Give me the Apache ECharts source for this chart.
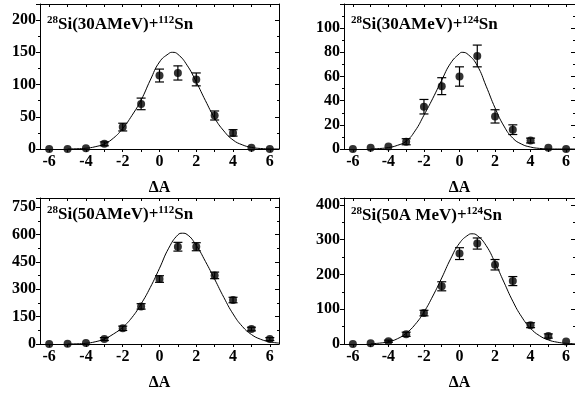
<!DOCTYPE html>
<html>
<head>
<meta charset="utf-8">
<script src="https://cdn.jsdelivr.net/npm/echarts@6/dist/echarts.min.js"></script>
<style>
  html, body { margin: 0; padding: 0; background: #fff; }
  #chart { width: 575px; height: 393px; }
</style>
</head>
<body>
<div id="chart"></div>
<script>
// mass transfer ΔA for the measured points
const massX = [-6, -5, -4, -3, -2, -1, 0, 1, 2, 3, 4, 5, 6];
const xTicks = [-6, -5, -4, -3, -2, -1, 0, 1, 2, 3, 4, 5, 6];
const xLabels = [-6, -4, -2, 0, 2, 4, 6];

// y tick labels per panel
const yLabels30sn112 = [0, 50, 100, 150, 200];
const yLabels30sn124 = [0, 20, 40, 60, 80, 100];
const yLabels50sn112 = [0, 150, 300, 450, 600, 750];
const yLabels50sn124 = [0, 100, 200, 300, 400];

// measured yields and errors
const si30sn112 = [0, 0, 1, 8, 34, 70, 114, 118, 108, 52, 25, 2, 0];
const si30sn112Err = [0, 0, 0, 3, 6, 9, 10, 11, 10, 7, 5, 0, 0];
const si30sn124 = [0, 1, 2, 6, 35, 52, 60, 77, 27, 16, 7, 1, 0];
const si30sn124Err = [0, 0, 0, 2.5, 6, 7, 8, 9, 5.5, 4, 2, 0, 0];
const si50sn112 = [0, 2, 5, 27, 86, 206, 356, 533, 533, 376, 241, 82, 27];
const si50sn112Err = [0, 0, 0, 8, 12, 15, 18, 24, 22, 18, 15, 10, 8];
const si50sn124 = [0, 2, 8, 28, 89, 166, 260, 289, 228, 181, 54, 23, 7];
const si50sn124Err = [0, 0, 3, 6, 8, 13, 17, 16, 15, 13, 7, 6, 0];

// fitted curves
const fitX30sn112 = [-5, -4.5, -4, -3.5, -3, -2.5, -2, -1.5, -1, -0.5, 0, 0.5, 0.7, 1, 1.5, 2, 2.5, 3, 3.5, 4, 4.5, 5, 5.5, 6, 6.5];
const fit30sn112 = [0.1, 0.4, 1.2, 3.5, 8, 17, 32, 52, 76, 107, 135, 148, 150, 147, 130, 104, 75, 48, 28, 14, 6.5, 2.5, 0.8, 0.2, 0];
const fitX30sn124 = [-5, -4.5, -4, -3.5, -3, -2.5, -2, -1.5, -1, -0.5, 0, 0.15, 0.5, 1, 1.5, 2, 2.5, 3, 3.5, 4, 4.5, 5, 5.5, 6, 6.5];
const fit30sn124 = [0.1, 0.4, 1.2, 3, 6.5, 15, 28, 42, 57, 71, 79, 80, 78, 69, 52, 34, 19, 9, 4, 1.6, 0.5, 0.1, 0, 0, 0];
const fitX50sn112 = [-5, -4.5, -4, -3.5, -3, -2.5, -2, -1.5, -1, -0.5, 0, 0.5, 1, 1.25, 1.5, 2, 2.5, 3, 3.5, 4, 4.5, 5, 5.5, 6, 6.5];
const fit50sn112 = [0.2, 1, 4, 12, 28, 55, 92, 145, 220, 310, 415, 525, 598, 607, 600, 540, 452, 355, 255, 165, 97, 52, 26, 12, 5];
const fitX50sn124 = [-5, -4.5, -4, -3.5, -3, -2.5, -2, -1.5, -1, -0.5, 0, 0.5, 0.7, 1, 1.5, 2, 2.5, 3, 3.5, 4, 4.5, 5, 5.5, 6, 6.5];
const fit50sn124 = [1, 2.5, 6.5, 15, 31, 56, 92, 138, 190, 245, 290, 314, 317, 312, 283, 234, 178, 123, 78, 45, 24, 11.7, 5.2, 2.1, 0.8];

const FONT = '"Liberation Serif", "Times New Roman", serif';

const panels = [
  { sup1: '28', main: 'Si(30AMeV)+', sup2: '112', end: 'Sn', y: si30sn112, err: si30sn112Err,
    fitX: fitX30sn112, fit: fit30sn112, yLabels: yLabels30sn112,
    max: 225, interval: 50, left: 40, top: 4, height: 145, titleTop: 15 },
  { sup1: '28', main: 'Si(30AMeV)+', sup2: '124', end: 'Sn', y: si30sn124, err: si30sn124Err,
    fitX: fitX30sn124, fit: fit30sn124, yLabels: yLabels30sn124,
    max: 120, interval: 20, left: 344, top: 4, height: 145, titleTop: 15 },
  { sup1: '28', main: 'Si(50AMeV)+', sup2: '112', end: 'Sn', y: si50sn112, err: si50sn112Err,
    fitX: fitX50sn112, fit: fit50sn112, yLabels: yLabels50sn112,
    max: 800, interval: 150, left: 40, top: 198, height: 146, titleTop: 205 },
  { sup1: '28', main: 'Si(50A MeV)+', sup2: '124', end: 'Sn', y: si50sn124, err: si50sn124Err,
    fitX: fitX50sn124, fit: fit50sn124, yLabels: yLabels50sn124,
    max: 420, interval: 100, left: 344, top: 198, height: 146, titleTop: 206 },
];

const black = '#000';
const labelFont = { fontFamily: FONT, fontWeight: 'bold', fontSize: 16, color: black };

const grid = [], xAxis = [], yAxis = [], series = [], title = [];

panels.forEach((p, i) => {
  grid.push({ left: p.left, top: p.top, width: 239, height: p.height });

  title.push({
    text: `{s|${p.sup1}}{b|${p.main}}{s|${p.sup2}}{b|${p.end}}`,
    left: p.left + 7,
    top: p.titleTop,
    padding: 0,
    textStyle: {
      rich: {
        b: { fontFamily: FONT, fontWeight: 'bold', fontSize: 17, color: black, lineHeight: 20 },
        s: { fontFamily: FONT, fontWeight: 'bold', fontSize: 11, color: black, lineHeight: 14, verticalAlign: 'top' },
      },
    },
  });

  xAxis.push({
    type: 'value', gridIndex: i, position: 'bottom', min: -6.5, max: 6.5,
    axisLine: { onZero: false, lineStyle: { color: black, width: 1 } },
    axisTick: { customValues: xTicks, length: 3, lineStyle: { color: black } },
    axisLabel: { customValues: xLabels, margin: 5, ...labelFont },
    splitLine: { show: false },
    name: 'ΔA', nameLocation: 'middle', nameGap: 31,
    nameTextStyle: labelFont,
  });
  xAxis.push({
    type: 'value', gridIndex: i, position: 'top', min: -6.5, max: 6.5,
    axisLine: { onZero: false, lineStyle: { color: black, width: 1 } },
    axisTick: { customValues: xTicks, inside: true, length: 3, lineStyle: { color: black } },
    axisLabel: { show: false },
    splitLine: { show: false },
  });

  yAxis.push({
    type: 'value', gridIndex: i, position: 'left', min: 0, max: p.max, interval: p.interval,
    axisLine: { show: true, onZero: false, lineStyle: { color: black, width: 1 } },
    axisTick: { show: true, length: 4, lineStyle: { color: black } },
    minorTick: { show: true, splitNumber: 2, length: 2, lineStyle: { color: black } },
    axisLabel: { customValues: p.yLabels, margin: 4, ...labelFont },
    splitLine: { show: false },
  });
  yAxis.push({
    type: 'value', gridIndex: i, position: 'right', min: 0, max: p.max, interval: p.interval,
    axisLine: { show: true, onZero: false, lineStyle: { color: black, width: 1 } },
    axisTick: { show: true, inside: true, length: 4, lineStyle: { color: black } },
    minorTick: { show: true, splitNumber: 2, length: 2, lineStyle: { color: black } },
    axisLabel: { show: false },
    splitLine: { show: false },
  });

  series.push({
    type: 'line', xAxisIndex: 2 * i, yAxisIndex: 2 * i,
    data: p.fitX.map((x, k) => [x, p.fit[k]]),
    smooth: true, showSymbol: false, silent: true,
    lineStyle: { color: black, width: 1 }, z: 2,
  });

  series.push({
    type: 'custom', xAxisIndex: 2 * i, yAxisIndex: 2 * i,
    data: massX.map((x, k) => [x, p.y[k] - p.err[k], p.y[k] + p.err[k]]).filter((d, k) => p.err[k] > 0),
    renderItem: (params, api) => {
      const hi = api.coord([api.value(0), api.value(2)]);
      const lo = api.coord([api.value(0), api.value(1)]);
      const w = 4.5;
      const style = { stroke: black, lineWidth: 1.2 };
      return {
        type: 'group',
        children: [
          { type: 'line', shape: { x1: hi[0], y1: hi[1], x2: lo[0], y2: lo[1] }, style },
          { type: 'line', shape: { x1: hi[0] - w, y1: hi[1], x2: hi[0] + w, y2: hi[1] }, style },
          { type: 'line', shape: { x1: lo[0] - w, y1: lo[1], x2: lo[0] + w, y2: lo[1] }, style },
        ],
      };
    },
    z: 3,
  });

  series.push({
    type: 'scatter', xAxisIndex: 2 * i, yAxisIndex: 2 * i,
    data: massX.map((x, k) => [x, p.y[k]]),
    symbol: 'circle', symbolSize: 8,
    itemStyle: { color: black }, z: 4,
  });
});

const chart = echarts.init(document.getElementById('chart'));
chart.setOption({
  animation: false,
  backgroundColor: '#fff',
  title,
  grid,
  xAxis,
  yAxis,
  series,
});
</script>
</body>
</html>
